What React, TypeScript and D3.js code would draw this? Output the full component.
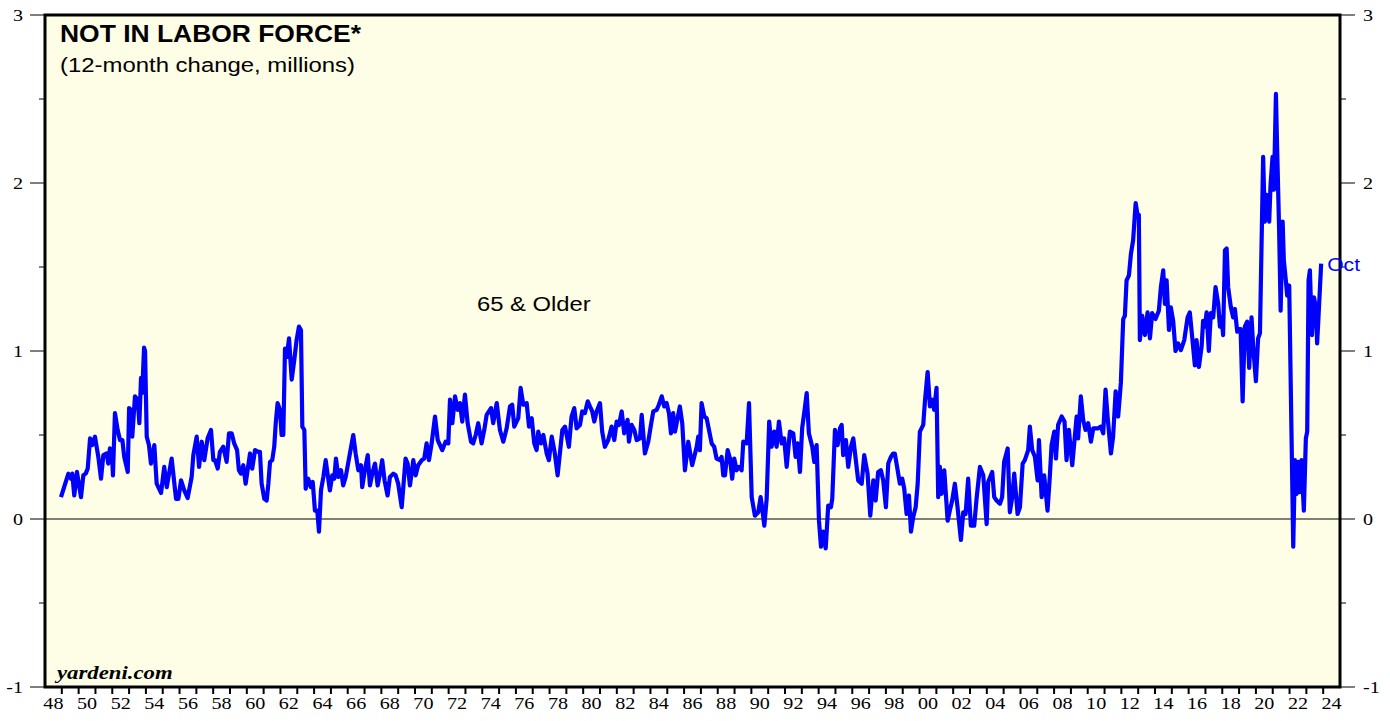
import { useMemo } from "react";
import * as d3 from "d3";

// 12-month change in persons 65 & older not in labor force (millions)
const olderPoints: [number, number][] = [
  [1948.95, 0.13], [1949.39, 0.27], [1949.55, 0.24], [1949.62, 0.27], [1949.74, 0.14], [1949.9, 0.28],
  [1950.14, 0.13], [1950.28, 0.26], [1950.42, 0.27], [1950.54, 0.3], [1950.68, 0.48], [1950.81, 0.44],
  [1950.97, 0.49], [1951.17, 0.37], [1951.33, 0.24], [1951.47, 0.38], [1951.67, 0.39], [1951.76, 0.33],
  [1951.86, 0.42], [1951.97, 0.41], [1952.04, 0.26], [1952.16, 0.63], [1952.32, 0.53], [1952.46, 0.47],
  [1952.6, 0.47], [1952.71, 0.37], [1952.92, 0.28], [1953.0, 0.66], [1953.11, 0.65], [1953.19, 0.49],
  [1953.35, 0.73], [1953.51, 0.71], [1953.61, 0.57], [1953.71, 0.84], [1953.78, 0.75], [1953.89, 1.02],
  [1953.95, 1.0], [1954.05, 0.49], [1954.18, 0.44], [1954.3, 0.33], [1954.5, 0.44], [1954.64, 0.21],
  [1954.9, 0.155], [1955.09, 0.31], [1955.24, 0.19], [1955.53, 0.36], [1955.79, 0.12], [1955.93, 0.12],
  [1956.09, 0.23], [1956.28, 0.17], [1956.48, 0.125], [1956.72, 0.25], [1956.82, 0.38], [1957.02, 0.49],
  [1957.16, 0.31], [1957.32, 0.46], [1957.47, 0.35], [1957.67, 0.48], [1957.87, 0.53], [1958.01, 0.35],
  [1958.11, 0.35], [1958.27, 0.3], [1958.4, 0.4], [1958.6, 0.43], [1958.8, 0.34], [1958.94, 0.51],
  [1959.1, 0.51], [1959.25, 0.45], [1959.42, 0.41], [1959.53, 0.29], [1959.65, 0.27], [1959.79, 0.32],
  [1959.93, 0.21], [1960.19, 0.39], [1960.32, 0.3], [1960.49, 0.41], [1960.68, 0.4], [1960.78, 0.4],
  [1960.88, 0.21], [1961.04, 0.12], [1961.18, 0.11], [1961.28, 0.21], [1961.38, 0.34], [1961.51, 0.35],
  [1961.63, 0.43], [1961.72, 0.57], [1961.83, 0.69], [1961.97, 0.65], [1962.07, 0.5], [1962.17, 0.5],
  [1962.27, 1.015], [1962.37, 0.965], [1962.51, 1.075], [1962.67, 0.83], [1962.82, 0.945], [1962.96, 1.065],
  [1963.1, 1.145], [1963.22, 1.125], [1963.3, 0.55], [1963.42, 0.53], [1963.5, 0.18], [1963.65, 0.24],
  [1963.81, 0.19], [1963.92, 0.22], [1964.05, 0.05], [1964.19, 0.05], [1964.29, -0.075], [1964.41, 0.17],
  [1964.55, 0.25], [1964.69, 0.35], [1964.94, 0.17], [1965.08, 0.26], [1965.2, 0.24], [1965.3, 0.36],
  [1965.44, 0.25], [1965.6, 0.29], [1965.73, 0.2], [1965.88, 0.25], [1966.13, 0.39], [1966.33, 0.5],
  [1966.47, 0.39], [1966.63, 0.29], [1966.79, 0.32], [1966.86, 0.19], [1967.02, 0.29], [1967.19, 0.38],
  [1967.32, 0.2], [1967.46, 0.27], [1967.62, 0.33], [1967.78, 0.2], [1967.92, 0.27], [1968.05, 0.35],
  [1968.19, 0.23], [1968.37, 0.14], [1968.51, 0.25], [1968.71, 0.27], [1968.85, 0.26], [1969.0, 0.21],
  [1969.21, 0.07], [1969.44, 0.36], [1969.56, 0.33], [1969.7, 0.2], [1969.9, 0.35], [1970.04, 0.26],
  [1970.19, 0.32], [1970.4, 0.35], [1970.55, 0.36], [1970.69, 0.45], [1970.83, 0.35], [1970.99, 0.45],
  [1971.19, 0.61], [1971.35, 0.47], [1971.62, 0.41], [1971.82, 0.46], [1971.98, 0.45], [1972.08, 0.71],
  [1972.22, 0.57], [1972.38, 0.73], [1972.54, 0.65], [1972.67, 0.69], [1972.81, 0.58], [1972.97, 0.74],
  [1973.13, 0.57], [1973.33, 0.46], [1973.46, 0.45], [1973.61, 0.5], [1973.76, 0.57], [1973.96, 0.45],
  [1974.12, 0.53], [1974.26, 0.62], [1974.52, 0.66], [1974.65, 0.57], [1974.86, 0.69], [1975.05, 0.53],
  [1975.25, 0.46], [1975.45, 0.54], [1975.65, 0.67], [1975.78, 0.68], [1975.9, 0.55], [1976.14, 0.6],
  [1976.28, 0.78], [1976.44, 0.68], [1976.64, 0.69], [1976.78, 0.55], [1976.94, 0.6], [1977.09, 0.45],
  [1977.23, 0.41], [1977.33, 0.52], [1977.49, 0.45], [1977.63, 0.5], [1977.83, 0.39], [1977.96, 0.35],
  [1978.13, 0.49], [1978.3, 0.4], [1978.48, 0.26], [1978.76, 0.53], [1978.92, 0.55], [1979.15, 0.43],
  [1979.31, 0.61], [1979.47, 0.66], [1979.61, 0.54], [1979.81, 0.56], [1979.94, 0.64], [1980.1, 0.63],
  [1980.27, 0.7], [1980.4, 0.67], [1980.54, 0.64], [1980.66, 0.58], [1980.8, 0.64], [1981.0, 0.69],
  [1981.13, 0.52], [1981.29, 0.43], [1981.49, 0.47], [1981.69, 0.55], [1981.85, 0.47], [1981.99, 0.58],
  [1982.13, 0.56], [1982.29, 0.64], [1982.44, 0.51], [1982.64, 0.59], [1982.72, 0.46], [1982.88, 0.56],
  [1983.04, 0.53], [1983.18, 0.47], [1983.38, 0.48], [1983.48, 0.62], [1983.67, 0.39], [1983.87, 0.46],
  [1984.03, 0.56], [1984.17, 0.64], [1984.37, 0.65], [1984.5, 0.68], [1984.67, 0.73], [1984.82, 0.67],
  [1984.96, 0.69], [1985.1, 0.63], [1985.22, 0.51], [1985.35, 0.63], [1985.46, 0.52], [1985.75, 0.67],
  [1985.89, 0.57], [1986.05, 0.29], [1986.25, 0.46], [1986.48, 0.32], [1986.75, 0.43], [1986.84, 0.49],
  [1986.94, 0.41], [1987.04, 0.69], [1987.2, 0.61], [1987.34, 0.6], [1987.48, 0.53], [1987.64, 0.45],
  [1987.79, 0.43], [1987.93, 0.36], [1988.13, 0.35], [1988.23, 0.37], [1988.33, 0.26], [1988.43, 0.26],
  [1988.59, 0.41], [1988.73, 0.36], [1988.86, 0.24], [1988.98, 0.36], [1989.12, 0.29], [1989.26, 0.31],
  [1989.42, 0.29], [1989.52, 0.46], [1989.72, 0.45], [1989.86, 0.69], [1990.02, 0.13], [1990.21, 0.02],
  [1990.41, 0.04], [1990.55, 0.13], [1990.65, 0.06], [1990.77, -0.04], [1990.91, 0.12], [1991.06, 0.58],
  [1991.2, 0.43], [1991.36, 0.52], [1991.5, 0.43], [1991.64, 0.58], [1991.8, 0.45], [1991.95, 0.48],
  [1992.1, 0.31], [1992.29, 0.52], [1992.49, 0.51], [1992.63, 0.37], [1992.75, 0.45], [1992.89, 0.28],
  [1993.02, 0.54], [1993.18, 0.66], [1993.29, 0.75], [1993.42, 0.51], [1993.62, 0.43], [1993.74, 0.34],
  [1993.88, 0.44], [1994.02, -0.01], [1994.14, -0.165], [1994.27, -0.075], [1994.42, -0.175], [1994.57, 0.08],
  [1994.73, 0.07], [1994.81, 0.12], [1994.97, 0.53], [1995.13, 0.44], [1995.27, 0.54], [1995.37, 0.56],
  [1995.46, 0.38], [1995.62, 0.47], [1995.76, 0.31], [1995.92, 0.43], [1996.06, 0.48], [1996.2, 0.36],
  [1996.35, 0.23], [1996.56, 0.21], [1996.71, 0.38], [1996.91, 0.27], [1997.07, 0.02], [1997.25, 0.23],
  [1997.39, 0.11], [1997.54, 0.28], [1997.7, 0.29], [1997.84, 0.23], [1998.0, 0.07], [1998.14, 0.33],
  [1998.3, 0.37], [1998.43, 0.39], [1998.53, 0.39], [1998.7, 0.29], [1998.83, 0.21], [1998.97, 0.24],
  [1999.09, 0.18], [1999.23, 0.03], [1999.37, 0.14], [1999.49, -0.075], [1999.62, 0.01], [1999.77, 0.07],
  [1999.89, 0.21], [2000.02, 0.52], [2000.22, 0.56], [2000.32, 0.7], [2000.48, 0.875], [2000.62, 0.67],
  [2000.75, 0.71], [2000.87, 0.65], [2001.01, 0.78], [2001.11, 0.13], [2001.21, 0.31], [2001.31, 0.15],
  [2001.47, 0.29], [2001.67, -0.01], [2001.8, 0.05], [2001.94, 0.11], [2002.1, 0.21], [2002.26, 0.07],
  [2002.46, -0.125], [2002.6, 0.04], [2002.74, 0.03], [2002.89, 0.24], [2003.05, -0.04], [2003.25, -0.04],
  [2003.39, 0.12], [2003.59, 0.31], [2003.79, 0.26], [2003.99, -0.03], [2004.08, 0.22], [2004.32, 0.28],
  [2004.44, 0.13], [2004.58, 0.11], [2004.78, 0.09], [2004.91, 0.13], [2005.03, 0.34], [2005.24, 0.42],
  [2005.37, 0.04], [2005.51, 0.13], [2005.63, 0.27], [2005.83, 0.03], [2005.97, 0.07], [2006.13, 0.33],
  [2006.26, 0.35], [2006.46, 0.41], [2006.56, 0.55], [2006.7, 0.41], [2006.86, 0.37], [2007.02, 0.23],
  [2007.1, 0.47], [2007.26, 0.13], [2007.41, 0.26], [2007.61, 0.05], [2007.75, 0.26], [2007.85, 0.44],
  [2008.01, 0.52], [2008.11, 0.36], [2008.24, 0.56], [2008.45, 0.61], [2008.62, 0.58], [2008.74, 0.35],
  [2008.88, 0.53], [2009.08, 0.32], [2009.34, 0.61], [2009.43, 0.48], [2009.59, 0.73], [2009.73, 0.59],
  [2009.87, 0.53], [2010.03, 0.57], [2010.19, 0.46], [2010.33, 0.54], [2010.62, 0.54], [2010.78, 0.55],
  [2010.92, 0.51], [2011.06, 0.77], [2011.18, 0.61], [2011.38, 0.39], [2011.51, 0.49], [2011.66, 0.76],
  [2011.81, 0.61], [2011.97, 0.81], [2012.11, 1.19], [2012.21, 1.21], [2012.31, 1.42], [2012.45, 1.45],
  [2012.57, 1.58], [2012.7, 1.66], [2012.85, 1.88], [2012.96, 1.81], [2013.04, 1.81], [2013.1, 1.065],
  [2013.24, 1.21], [2013.4, 1.095], [2013.56, 1.23], [2013.7, 1.075], [2013.83, 1.225], [2014.03, 1.19],
  [2014.23, 1.24], [2014.35, 1.38], [2014.49, 1.48], [2014.59, 1.28], [2014.69, 1.42], [2014.83, 1.125],
  [2014.94, 1.26], [2015.08, 1.18], [2015.22, 1.0], [2015.38, 1.045], [2015.54, 1.005], [2015.74, 1.065],
  [2015.94, 1.2], [2016.07, 1.23], [2016.21, 1.085], [2016.37, 0.915], [2016.47, 1.065], [2016.61, 0.905],
  [2016.77, 1.025], [2016.86, 1.18], [2016.97, 1.145], [2017.07, 1.23], [2017.2, 1.0], [2017.32, 1.225],
  [2017.46, 1.2], [2017.6, 1.38], [2017.76, 1.28], [2017.86, 1.145], [2017.96, 1.2], [2018.05, 1.095],
  [2018.16, 1.6], [2018.26, 1.61], [2018.35, 1.38], [2018.51, 1.26], [2018.65, 1.2], [2018.75, 1.25],
  [2018.89, 1.115], [2019.0, 1.13], [2019.09, 1.13], [2019.21, 0.7], [2019.34, 1.145], [2019.48, 1.175],
  [2019.6, 0.9], [2019.74, 1.2], [2019.84, 1.025], [2020.0, 0.82], [2020.13, 1.075], [2020.24, 1.105],
  [2020.43, 2.155], [2020.53, 1.77], [2020.63, 1.93], [2020.79, 1.77], [2020.87, 1.99], [2020.99, 2.155],
  [2021.07, 1.96], [2021.19, 2.53], [2021.26, 2.215], [2021.38, 1.72], [2021.47, 1.24], [2021.59, 1.77],
  [2021.66, 1.54], [2021.78, 1.42], [2021.86, 1.33], [2021.98, 1.39], [2022.22, -0.165], [2022.32, 0.35],
  [2022.42, 0.15], [2022.51, 0.34], [2022.61, 0.16], [2022.71, 0.35], [2022.85, 0.05], [2022.97, 0.48],
  [2023.05, 0.52], [2023.13, 1.42], [2023.21, 1.48], [2023.33, 1.095], [2023.45, 1.32], [2023.57, 1.26],
  [2023.64, 1.045], [2023.73, 1.22], [2023.88, 1.52],
];

const yMajorTicks = [-1, 0, 1, 2, 3];
const yMinorTicks = [-0.5, 0.5, 1.5, 2.5];
const yearTicks = d3.range(1949, 2025);
const labelYears = d3.range(1948, 2025, 2);

const W = 1390;
const H = 721;
const left = 45;
const right = 1340;
const top = 15;
const bottom = 687;
const SX = 1.15; // source image is a bit stretched horizontally

const App = () => {
  const x = useMemo(() => d3.scaleLinear().domain([1948, 2025]).range([left, right]), []);
  const y = useMemo(() => d3.scaleLinear().domain([-1, 3]).range([bottom, top]), []);

  const line = d3
    .line<[number, number]>()
    .x((d) => x(d[0]))
    .y((d) => y(d[1]))
    .curve(d3.curveLinear);

  const last = olderPoints[olderPoints.length - 1];

  const txt = (
    tx: number,
    ty: number,
    s: string,
    opts: { size: number; family?: string; weight?: string; style?: string; fill?: string; anchor?: string }
  ) => (
    <text
      transform={`translate(${tx},${ty}) scale(${SX},1)`}
      fontSize={opts.size}
      fontFamily={opts.family ?? "'Liberation Sans', Arial, sans-serif"}
      fontWeight={opts.weight ?? "normal"}
      fontStyle={opts.style ?? "normal"}
      fill={opts.fill ?? "#000"}
      textAnchor={opts.anchor ?? "start"}
    >
      {s}
    </text>
  );

  const serif = "'Liberation Serif', 'Times New Roman', serif";

  return (
    <svg width={W} height={H} style={{ position: "absolute", left: 0, top: 0, background: "#fff" }}>
      <rect x={left} y={top} width={right - left} height={bottom - top} fill="#FEFEE6" />

      {/* zero line */}
      <line x1={left} x2={right} y1={y(0)} y2={y(0)} stroke="#000" strokeWidth={1} />

      {/* series */}
      <path d={line(olderPoints) ?? ""} fill="none" stroke="#0000FF" strokeWidth={4.2} strokeLinejoin="round" />

      {/* frame */}
      <rect x={left} y={top} width={right - left} height={bottom - top} fill="none" stroke="#000" strokeWidth={3} />

      {/* y ticks */}
      {yMajorTicks.map((t) => (
        <g key={"M" + t}>
          <line x1={left - 15} x2={left} y1={y(t)} y2={y(t)} stroke="#000" strokeWidth={1} />
          <line x1={right} x2={right + 15} y1={y(t)} y2={y(t)} stroke="#000" strokeWidth={1} />
          {txt(23, y(t) + 6, String(t), { size: 17.5, family: serif, anchor: "end" })}
          {txt(1363, y(t) + 6, String(t), { size: 17.5, family: serif })}
        </g>
      ))}
      {yMinorTicks.map((t) => (
        <g key={"m" + t}>
          <line x1={left - 6} x2={left} y1={y(t)} y2={y(t)} stroke="#000" strokeWidth={1} />
          <line x1={right} x2={right + 6} y1={y(t)} y2={y(t)} stroke="#000" strokeWidth={1} />
        </g>
      ))}

      {/* x ticks */}
      {yearTicks.map((t) => (
        <line key={t} x1={x(t)} x2={x(t)} y1={bottom} y2={bottom + 7} stroke="#000" strokeWidth={2} />
      ))}
      {labelYears.map((t) => (
        <g key={"l" + t}>{txt(x(t + 0.5), 709, String(t % 100).padStart(2, "0"), { size: 17.5, family: serif, anchor: "middle" })}</g>
      ))}

      {/* labels */}
      {txt(60, 42, "NOT IN LABOR FORCE*", { size: 23, weight: "bold" })}
      {txt(60, 72, "(12-month change, millions)", { size: 20.8 })}
      {txt(477, 311, "65 & Older", { size: 20.7 })}
      {txt(57, 679, "yardeni.com", { size: 19.8, family: serif, weight: "bold", style: "italic" })}
      {txt(x(last[0]) + 6, y(last[1]) + 7, "Oct", { size: 18.4, fill: "#0000FF" })}
    </svg>
  );
};

export default App;
